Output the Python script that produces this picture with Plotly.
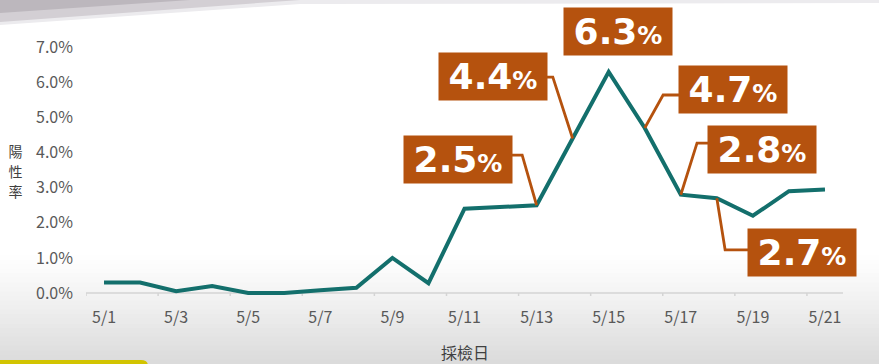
import plotly.graph_objects as go

# ---------------- data ----------------
dates = ["5/1", "5/2", "5/3", "5/4", "5/5", "5/6", "5/7", "5/8", "5/9", "5/10",
         "5/11", "5/12", "5/13", "5/14", "5/15", "5/16", "5/17", "5/18", "5/19",
         "5/20", "5/21"]
positivity = [0.3, 0.3, 0.05, 0.2, 0.0, 0.0, 0.08, 0.15, 1.0, 0.28,
              2.4, 2.45, 2.5, 4.4, 6.3, 4.7, 2.8, 2.7, 2.2, 2.9, 2.95]
y_ticks = [0, 1, 2, 3, 4, 5, 6, 7]
y_tick_labels = ["0.0%", "1.0%", "2.0%", "3.0%", "4.0%", "5.0%", "6.0%", "7.0%"]
x_tick_labels = dates[::2]
callout_dates = ["5/13", "5/14", "5/15", "5/16", "5/17", "5/18"]
callout_texts = ["2.5", "4.4", "6.3", "4.7", "2.8", "2.7"]
y_title = "陽性率"
x_title = "採檢日"

# ---------------- layout geometry ----------------
W, H = 879, 364
ML, MR, MT, MB = 86, 36, 33, 68
PW, PH = W - ML - MR, H - MT - MB
Y_RANGE = [-0.0855, 7.407]

LINE_COLOR = "#136f6c"
BOX_COLOR = "#b5520e"
TEXT_GRAY = "#595959"

x_idx = list(range(len(dates)))


def px2paper(px, py):
    return (px - ML) / PW, (MT + PH - py) / PH


def yval2paper(v):
    return (v - Y_RANGE[0]) / (Y_RANGE[1] - Y_RANGE[0])


# callout box centre (data units) and leader elbow (data units); None -> no leader
callout_layout = [
    dict(cx=9.83, cy=3.79, ex=11.6, ey=3.93),
    dict(cx=10.79, cy=6.17, ex=12.45, ey=6.15),
    dict(cx=14.26, cy=7.45, ex=None, ey=None),
    dict(cx=17.46, cy=5.80, ex=15.51, ey=5.64),
    dict(cx=18.25, cy=4.09, ex=16.45, ey=4.27),
    dict(cx=19.35, cy=1.15, ex=17.23, ey=1.23),
]

fig = go.Figure()
fig.add_trace(go.Scatter(
    x=x_idx, y=positivity, mode="lines",
    line=dict(color=LINE_COLOR, width=4),
    hoverinfo="skip", showlegend=False,
))

shapes = []

# ---- background gradient (bottom) ----
g_top, g_bot = 255, 364
n = 24
for k in range(n):
    py0 = g_top + (g_bot - g_top) * k / n
    py1 = g_top + (g_bot - g_top) * (k + 1) / n + 0.6
    t = (k + 0.5) / n
    c = int(round(255 - 37 * t ** 1.1))
    x0p, y0p = px2paper(0, py0)
    x1p, y1p = px2paper(W, py1)
    shapes.append(dict(type="rect", xref="paper", yref="paper", layer="below",
                       x0=x0p, x1=x1p, y0=y0p, y1=y1p,
                       fillcolor=f"rgb({c},{c},{c})", line=dict(width=0)))


# ---- top-left grey wedge ----
def poly(points, color):
    pts = [px2paper(a, b) for a, b in points]
    path = "M " + " L ".join(f"{a},{b}" for a, b in pts) + " Z"
    return dict(type="path", xref="paper", yref="paper", layer="below",
                path=path, fillcolor=color, line=dict(width=0))


shapes.append(poly([(0, 0), (W, 0), (W, 3), (300, 4), (0, 25)], "#ecebee"))
shapes.append(poly([(0, 0), (300, 0), (0, 22)], "#d3cfd4"))
shapes.append(poly([(0, 0), (190, 0), (0, 13)], "#bcb7bd"))

# ---- yellow bar bottom-left ----
p_a = px2paper(0, 366)
p_b = px2paper(0, 360)
p_c = px2paper(141, 360)
p_d = px2paper(148, 366)
shapes.append(dict(type="path", xref="paper", yref="paper", layer="above",
                   path=(f"M {p_a[0]},{p_a[1]} L {p_b[0]},{p_b[1]} L {p_c[0]},{p_c[1]} "
                         f"Q {p_d[0]},{p_c[1]} {p_d[0]},{p_d[1]} Z"),
                   fillcolor="#d2c400", line=dict(width=0)))

# ---- category axis line and ticks at y = 0 ----
shapes.append(dict(type="line", xref="x", yref="y", layer="below",
                   x0=-0.5, x1=len(dates) - 0.5, y0=0, y1=0,
                   line=dict(color="#d4d4d4", width=1.5)))
for k in range(0, len(dates), 2):
    shapes.append(dict(type="line", xref="x", yref="y", layer="below",
                       ysizemode="pixel", yanchor=0, y0=0, y1=-6,
                       x0=k - 0.5, x1=k - 0.5,
                       line=dict(color="#d4d4d4", width=1.5)))

# ---- callout leader lines and boxes ----
annotations = []
for d, txt, lay in zip(callout_dates, callout_texts, callout_layout):
    i = dates.index(d)
    v = positivity[i]
    if lay["ex"] is not None:
        shapes.append(dict(type="path", xref="x", yref="y", layer="above",
                           path=(f"M {lay['cx']},{lay['ey']} L {lay['ex']},{lay['ey']} "
                                 f"L {i},{v}"),
                           line=dict(color=BOX_COLOR, width=2.8)))
    annotations.append(dict(
        x=lay["cx"], y=yval2paper(lay["cy"]), xref="x", yref="paper",
        text=f"<b>{txt}<span style='font-size:25px'>%</span></b>",
        showarrow=False, width=108, height=47, borderpad=0,
        bgcolor=BOX_COLOR, align="center", valign="middle",
        font=dict(family="DejaVu Sans", size=36, color="white"),
        xanchor="center", yanchor="middle",
    ))

# ---- axis titles ----
# vertical, upright stacked characters of the y-axis title
for k, ch in enumerate(y_title):
    yt = px2paper(15, 150 + 20 * k)
    annotations.append(dict(x=yt[0], y=yt[1], xref="paper", yref="paper",
                            text=ch, showarrow=False, height=17, width=17,
                            borderpad=0,
                            font=dict(family="Noto Sans CJK TC", size=14,
                                      color="#404040"),
                            xanchor="center", yanchor="middle"))
xt = px2paper(465, 352)
annotations.append(dict(x=xt[0], y=xt[1], xref="paper", yref="paper",
                        text=x_title, showarrow=False,
                        font=dict(family="Noto Sans CJK TC", size=16, color="#404040"),
                        xanchor="center", yanchor="middle"))

fig.update_layout(
    width=W, height=H, autosize=False,
    margin=dict(l=ML, r=MR, t=MT, b=MB, pad=0),
    paper_bgcolor="#ffffff", plot_bgcolor="rgba(0,0,0,0)",
    shapes=shapes, annotations=annotations, showlegend=False,
    xaxis=dict(range=[-0.5, len(dates) - 0.5], showgrid=False, zeroline=False,
               showline=False, ticks="", tickmode="array",
               tickvals=x_idx[::2], ticktext=x_tick_labels,
               ticklabelstandoff=10,
               tickfont=dict(family="Noto Sans CJK TC", size=16, color=TEXT_GRAY)),
    yaxis=dict(range=Y_RANGE, showgrid=False, zeroline=False, showline=False,
               ticks="", tickmode="array", tickvals=y_ticks, ticktext=y_tick_labels,
               ticklabelstandoff=12,
               tickfont=dict(family="Noto Sans CJK TC", size=16, color=TEXT_GRAY)),
)

fig.write_html("out.html")
